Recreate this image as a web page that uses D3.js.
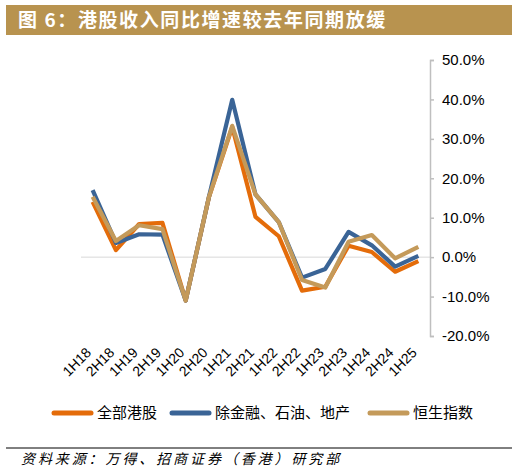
<!DOCTYPE html>
<html>
<head>
<meta charset="utf-8">
<script src="https://d3js.org/d3.v7.min.js"></script>
<style>
    body { margin: 0; background: #fff; }
    svg { display: block; }
    .cjk { font-family: "Noto Sans CJK SC", sans-serif; }
</style>
</head>
<body>
<div id="chart"></div>
<script>
var periods = ["1H18","2H18","1H19","2H19","1H20","2H20","1H21","2H21","1H22","2H22","1H23","2H23","1H24","2H24","1H25"];
var allHK   = [14.0, 1.8, 8.4, 8.7, -11.0, 15.2, 33.0, 10.2, 5.3, -8.5, -7.5, 2.9, 1.3, -3.7, -1.0];
var exFin   = [17.0, 3.6, 5.8, 5.7, -11.0, 15.3, 39.9, 15.9, 8.9, -5.2, -3.0, 6.4, 3.0, -2.4, 0.3];
var hsi     = [15.3, 4.1, 8.1, 7.1, -11.0, 15.3, 33.3, 15.9, 8.9, -5.8, -7.7, 3.9, 5.6, -0.3, 2.6];
var yTicks  = [-20, -10, 0, 10, 20, 30, 40, 50];

var series = [
    {name: "全部港股", values: allHK, color: "#E46C0A"},
    {name: "除金融、石油、地产", values: exFin, color: "#3A6496"},
    {name: "恒生指数", values: hsi, color: "#C49A5A"}
];

var W = 517, H = 474;
var svg = d3.select("#chart").append("svg")
    .attr("width", W)
    .attr("height", H);

// title bar
svg.append("rect")
    .attr("x", 6).attr("y", 5)
    .attr("width", 506).attr("height", 30)
    .attr("fill", "#B8934F");
svg.append("text")
    .attr("class", "cjk")
    .attr("x", 18).attr("y", 27)
    .attr("fill", "#fff")
    .attr("font-size", 19)
    .attr("font-weight", "bold")
    .attr("letter-spacing", 1.6)
    .text("图 6：港股收入同比增速较去年同期放缓");

var x = d3.scaleBand()
    .domain(periods)
    .range([81, 430]);
var y = d3.scaleLinear()
    .domain([-20, 50])
    .range([336, 60]);

function cx(d) { return x(d) + x.bandwidth() / 2; }

// zero line
svg.append("line")
    .attr("x1", 81).attr("x2", 430)
    .attr("y1", y(0)).attr("y2", y(0))
    .attr("stroke", "#d9d9d9")
    .attr("stroke-width", 1);

// right axis
var yAxis = svg.append("g")
    .attr("transform", "translate(430,0)")
    .call(d3.axisRight(y).tickValues(yTicks).tickSize(4).tickPadding(8)
        .tickFormat(function(d) { return d.toFixed(1) + "%"; }));
yAxis.select(".domain").attr("stroke", "#bfbfbf").attr("stroke-width", 1.5);
yAxis.selectAll(".tick line").attr("stroke", "#bfbfbf").attr("stroke-width", 1.5);
yAxis.selectAll("text")
    .attr("font-family", "Liberation Sans, Arial, sans-serif")
    .attr("font-size", 15)
    .attr("fill", "#000");

// x labels
svg.selectAll(".xlab")
    .data(periods)
    .enter()
    .append("text")
    .attr("class", "xlab")
    .attr("transform", function(d) { return "translate(" + (cx(d) - 4) + ",350) rotate(-45)"; })
    .attr("text-anchor", "end")
    .attr("dy", "0.35em")
    .attr("font-family", "Liberation Sans, Arial, sans-serif")
    .attr("font-size", 14)
    .attr("fill", "#000")
    .text(function(d) { return d; });

// lines
var line = d3.line()
    .x(function(d, i) { return cx(periods[i]); })
    .y(function(d) { return y(d); });

svg.selectAll(".series")
    .data(series)
    .enter()
    .append("path")
    .attr("class", "series")
    .attr("d", function(d) { return line(d.values); })
    .attr("fill", "none")
    .attr("stroke", function(d) { return d.color; })
    .attr("stroke-width", 4.2)
    .attr("stroke-linejoin", "round");

// legend
var legendX = [52, 170, 368];
var lg = svg.selectAll(".lg")
    .data(series)
    .enter()
    .append("g")
    .attr("transform", function(d, i) { return "translate(" + legendX[i] + ",413)"; });
lg.append("line")
    .attr("x1", 2).attr("x2", 39)
    .attr("stroke", function(d) { return d.color; })
    .attr("stroke-width", 5)
    .attr("stroke-linecap", "round");
lg.append("text")
    .attr("class", "cjk")
    .attr("x", 45)
    .attr("dy", "0.36em")
    .attr("font-size", 15)
    .attr("fill", "#000")
    .text(function(d) { return d.name; });

// source
svg.append("line")
    .attr("x1", 6).attr("x2", 512)
    .attr("y1", 448).attr("y2", 448)
    .attr("stroke", "#000")
    .attr("stroke-width", 1);
svg.append("text")
    .attr("class", "cjk")
    .attr("x", 21).attr("y", 464)
    .attr("font-size", 14)
    .attr("font-style", "italic")
    .attr("letter-spacing", 2.9)
    .attr("fill", "#000")
    .text("资料来源：万得、招商证券（香港）研究部");
</script>
</body>
</html>
